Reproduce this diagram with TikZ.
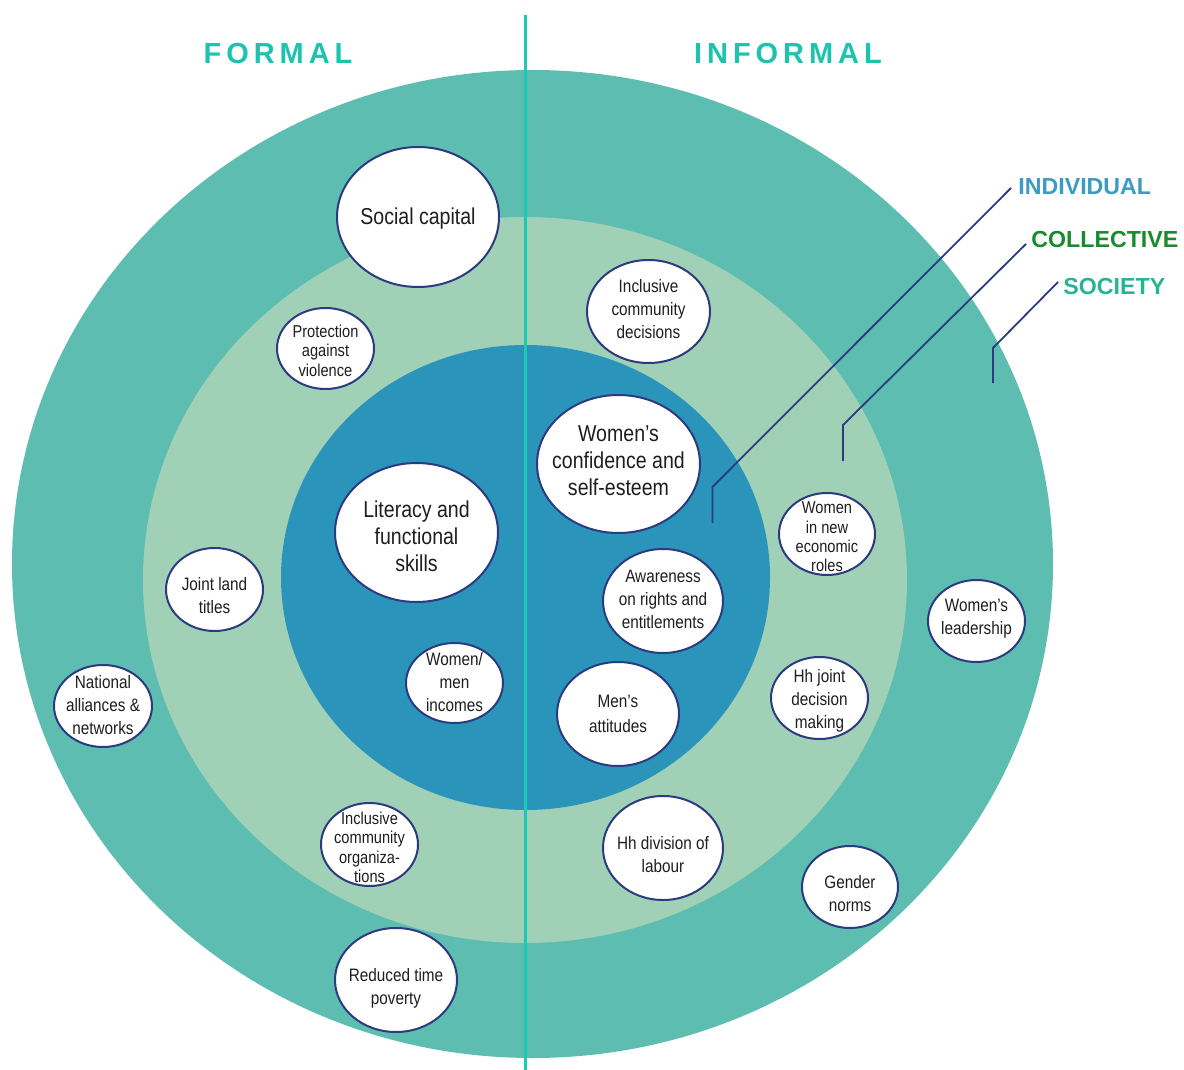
\documentclass[tikz,border=0pt]{standalone}
\usepackage{fontspec}
\setmainfont{Liberation Sans}[FakeStretch=0.85]
\newfontfamily\hdrfont{Liberation Sans}[LetterSpace=17]
\newfontfamily\lblfont{Liberation Sans}
\usetikzlibrary{shapes.geometric}
\definecolor{outerc}{HTML}{5DBDB0}
\definecolor{midc}{HTML}{A0D1B7}
\definecolor{innerc}{HTML}{2B94BA}
\definecolor{vlinec}{HTML}{1CCAB3}
\definecolor{hdrc}{HTML}{1CC4AE}
\definecolor{navyc}{HTML}{2C3A80}
\definecolor{indivc}{HTML}{3C9BC3}
\definecolor{collc}{HTML}{1A8A2E}
\definecolor{socc}{HTML}{27B495}
\definecolor{txtc}{HTML}{1E1E1E}
\tikzset{
  bubble/.style={ellipse, draw=navyc, fill=white, line width=1pt, inner sep=0pt},
  bigtxt/.style={font=\fontsize{11.5}{13.5}\selectfont, align=center, inner sep=0pt, text=txtc},
  medtxt/.style={font=\fontsize{9}{11.5}\selectfont, align=center, inner sep=0pt, text=txtc},
  tighttxt/.style={font=\fontsize{8.6}{9.7}\selectfont, align=center, inner sep=0pt, text=txtc},
  hdr/.style={font=\hdrfont\bfseries\fontsize{14.5}{16}\selectfont, text=hdrc, inner sep=0pt, anchor=base},
  lvl/.style={font=\lblfont\bfseries\fontsize{11.6}{13}\selectfont, inner sep=0pt, anchor=base west},
  leader/.style={draw=navyc, line width=0.9pt}
}
\newcommand\mybubble[8]{%
  \node[bubble, minimum width=#4pt, minimum height=#5pt] (#1) at (#2,#3) {};
  \node[#6] (#1-t) at ([yshift=#8pt]#1.center) {#7};
}
\begin{document}
\begin{tikzpicture}[x=0.5pt,y=-0.5pt]
\path[use as bounding box] (0,0) rectangle (1184,1070);
% rings
\fill[outerc] (532.5,564) ellipse [x radius=520.5, y radius=494];
\fill[midc] (525,580) ellipse [x radius=382, y radius=363];
\fill[innerc] (525.5,577.5) ellipse [x radius=244.5, y radius=232.5];
% divider
\coordinate (vtop) at (525.5,15);
\coordinate (vbot) at (525.5,1070);
\draw[vlinec, line width=1.6pt] (vtop) -- (vbot);
% headers
\node[hdr] (formal) at (278,64) {FORMAL};
\node[hdr] (informal) at (788,64) {INFORMAL};
% level labels
\node[lvl, text=indivc] (indiv) at (1018,195) {INDIVIDUAL};
\node[lvl, text=collc] (coll) at (1031,247) {COLLECTIVE};
\node[lvl, text=socc] (soc) at (1063,294) {SOCIETY};
\coordinate (iA) at (712.5,523);
\coordinate (iB) at (712.5,487);
\coordinate (cA) at (843,461);
\coordinate (cB) at (843,425);
\coordinate (sA) at (993,383);
\coordinate (sB) at (993,348);
\draw[leader] (iA) -- (iB) -- ([xshift=-3.5pt,yshift=3.5pt]indiv.base west);
\draw[leader] (cA) -- (cB) -- ([xshift=-2.5pt,yshift=1.5pt]coll.base west);
\draw[leader] (sA) -- (sB) -- ([xshift=-2.5pt,yshift=6pt]soc.base west);
% bubbles
\mybubble{social}{418}{217}{81}{70}{bigtxt}{Social capital}{-1}
\mybubble{protect}{325.5}{348.5}{48.5}{40.5}{tighttxt}{Protection\\against\\violence}{-1}
\mybubble{incdec}{648.5}{311.5}{61.5}{51.5}{medtxt}{Inclusive\\community\\decisions}{1}
\mybubble{conf}{618.5}{464}{81.5}{69}{bigtxt}{Women’s\\confidence and\\self-esteem}{1.5}
\mybubble{literacy}{416.5}{532.5}{81.5}{69.5}{bigtxt}{Literacy and\\functional\\skills}{-2}
\mybubble{newroles}{827}{534}{48}{41}{tighttxt}{Women\\in new\\economic\\roles}{-1.5}
\mybubble{aware}{663}{601}{60}{52}{medtxt}{Awareness\\on rights and\\entitlements}{1}
\mybubble{land}{214.5}{589.5}{48.5}{41.5}{medtxt}{Joint land\\titles}{-3}
\mybubble{leader}{976.5}{621}{48.5}{41}{medtxt}{Women’s\\leadership}{1}
\mybubble{national}{103}{706}{49}{41}{medtxt}{National\\alliances \&\\networks}{0.5}
\mybubble{incomes}{454.5}{683}{48.5}{40}{medtxt}{Women/\\men\\incomes}{0.5}
\mybubble{hhjoint}{819.5}{698}{48.5}{41}{medtxt}{Hh joint\\decision\\making}{-1.5}
\mybubble{mens}{618}{714}{61}{52}{medtxt}{Men’s\\[1pt]attitudes}{0}
\mybubble{incorg}{369.5}{844.5}{48.5}{41.5}{tighttxt}{Inclusive\\community\\organiza-\\tions}{-1.5}
\mybubble{division}{663}{848}{60}{52}{medtxt}{Hh division of\\labour}{-3.5}
\mybubble{gender}{850}{887}{48}{41}{medtxt}{Gender\\norms}{-3.5}
\mybubble{timepov}{396}{980}{61}{52}{medtxt}{Reduced time\\poverty}{-4}
\end{tikzpicture}
\end{document}
